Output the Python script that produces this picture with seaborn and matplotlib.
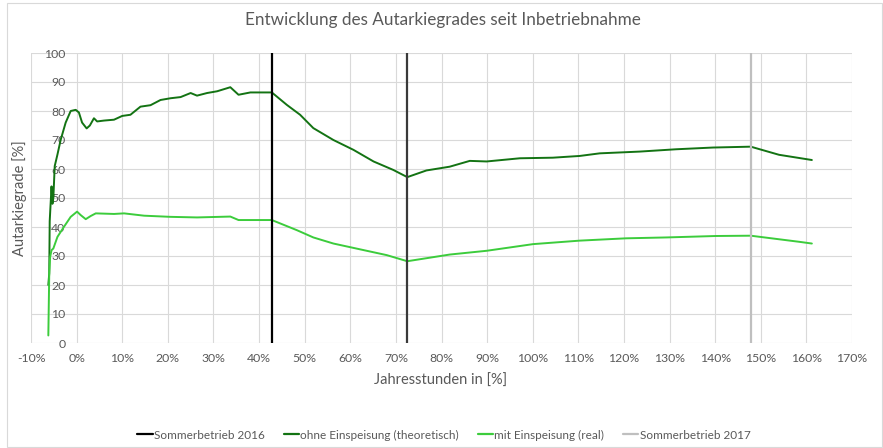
import pandas as pd
import seaborn as sns
import numpy as np
import matplotlib.pyplot as plt
from matplotlib.lines import Line2D
from matplotlib.patches import Rectangle

#--------------------data------------------------------------------
ohne_x = [-6.2, -6.0, -5.9, -5.5, -5.3, -5.1, -4.8, -4.2, -3.5, -2.4, -1.3, -0.2, 0.5, 1.2, 2.2,
          2.9, 3.8, 4.5, 6.0, 8.2, 10.0, 11.8, 14.0, 16.2, 18.4, 20.6, 22.8, 25.0, 26.4, 28.6,
          30.8, 33.7, 35.5, 38.1, 42.8, 46.1, 49.0, 51.9, 56.3, 60.7, 65.1, 69.4, 72.5, 76.7,
          81.8, 86.2, 89.9, 97.2, 104.4, 110.3, 114.7, 123.4, 131.4, 139.5, 147.8, 154.0, 161.2]
ohne_y = [20.0, 24.0, 42.0, 54.0, 48.0, 50.0, 61.0, 65.0, 70.0, 76.0, 80.0, 80.4, 79.5, 76.0, 74.0,
          75.0, 77.5, 76.4, 76.7, 77.0, 78.3, 78.7, 81.5, 82.0, 83.8, 84.4, 84.8, 86.2, 85.3, 86.2,
          86.8, 88.2, 85.6, 86.4, 86.4, 82.1, 78.7, 74.1, 70.0, 66.6, 62.6, 59.7, 57.2, 59.5,
          60.8, 62.8, 62.6, 63.7, 63.9, 64.5, 65.4, 66.0, 66.8, 67.4, 67.7, 64.9, 63.1]

mit_x = [-6.2, -6.0, -5.8, -5.5, -5.1, -4.2, -2.8, -1.3, 0.1, 0.9, 2.0, 3.1, 4.2, 8.2, 10.4,
         14.8, 20.6, 26.4, 33.7, 35.5, 42.8, 48.3, 51.9, 56.3, 63.6, 68.0, 72.5, 81.8, 89.9,
         100.1, 110.3, 120.5, 129.3, 140.2, 147.8, 158.4, 161.2]
mit_y = [2.6, 24.0, 29.7, 32.0, 32.6, 36.6, 40.0, 43.5, 45.3, 44.1, 42.7, 43.8, 44.7, 44.5, 44.7,
         43.9, 43.5, 43.3, 43.6, 42.4, 42.4, 38.9, 36.4, 34.3, 31.8, 30.3, 28.2, 30.5, 31.8,
         34.1, 35.3, 36.1, 36.4, 36.9, 37.0, 34.9, 34.3]

sommer_2016 = [42.8, 72.5]
sommer_2017 = [147.9]

series_names = ["ohne Einspeisung (theoretisch)", "mit Einspeisung (real)"]
df = pd.concat([
    pd.DataFrame({"x": ohne_x, "y": ohne_y, "serie": series_names[0]}),
    pd.DataFrame({"x": mit_x, "y": mit_y, "serie": series_names[1]}),
])

#--------------------------plot--------------------------
sns.set_theme(style="white")
plt.rcParams["font.family"] = ["Lato", "DejaVu Sans"]
text_col = "#595959"
grid_col = "#d9d9d9"
colors = {series_names[0]: "#137313", series_names[1]: "#3ccc3c"}

fig = plt.figure(figsize=(8.83, 4.48), dpi=100)
ax = fig.add_axes([31 / 883, 1 - 343 / 448, 821 / 883, 290 / 448])

sns.lineplot(data=df, x="x", y="y", hue="serie", palette=colors, sort=False,
             estimator=None, linewidth=1.4, legend=False, ax=ax)

ax.axvline(sommer_2016[0], color="black", linewidth=1.6, zorder=3)
ax.axvline(sommer_2016[1], color="#3a3a3a", linewidth=1.6, zorder=3)
for v in sommer_2017:
    ax.axvline(v, color="#bfbfbf", linewidth=1.6, zorder=3)

ax.set_xlim(-10, 170)
ax.set_ylim(0, 100)
ax.set_xticks(np.arange(-10, 171, 10))
ax.set_xticklabels([f"{t}%" for t in range(-10, 171, 10)])
ax.set_yticks(np.arange(0, 101, 10))
ax.grid(True, color=grid_col, linewidth=0.8)
ax.set_axisbelow(True)
for s in ax.spines.values():
    s.set_visible(False)
ax.spines["left"].set_position(("data", 0))
ax.tick_params(axis="both", length=0, labelsize=8.8, colors=text_col)
ax.tick_params(axis="x", pad=7)
ax.tick_params(axis="y", pad=8)
ax.set_xlabel("")
ax.set_ylabel("")

fig.text(443 / 883, 1 - 20 / 448, "Entwicklung des Autarkiegrades seit Inbetriebnahme",
         ha="center", va="center", fontsize=12.3, color=text_col)
fig.text(441 / 883, 1 - 381 / 448, "Jahresstunden in [%]", ha="center", va="center",
         fontsize=10.5, color=text_col)
fig.text(20 / 883, 1 - 198 / 448, "Autarkiegrade [%]", ha="center", va="center",
         rotation=90, fontsize=10.5, color=text_col)

handles = [
    Line2D([], [], color="black", linewidth=1.6),
    Line2D([], [], color=colors[series_names[0]], linewidth=1.6),
    Line2D([], [], color=colors[series_names[1]], linewidth=1.6),
    Line2D([], [], color="#bfbfbf", linewidth=1.6),
]
labels = ["Sommerbetrieb 2016", series_names[0], series_names[1], "Sommerbetrieb 2017"]
leg = fig.legend(handles, labels, loc="center", bbox_to_anchor=(444 / 883, 1 - 435 / 448),
                 ncol=4, frameon=False, fontsize=8.5, handlelength=1.3, handletextpad=0.1,
                 columnspacing=1.6)
for t in leg.get_texts():
    t.set_color(text_col)

fig.patches.append(Rectangle((7 / 883, 0.002), 875 / 883, 1 - 3 / 448 - 0.002,
                             transform=fig.transFigure, fill=False,
                             edgecolor=grid_col, linewidth=0.8))

fig.savefig("out.png", dpi=100)
